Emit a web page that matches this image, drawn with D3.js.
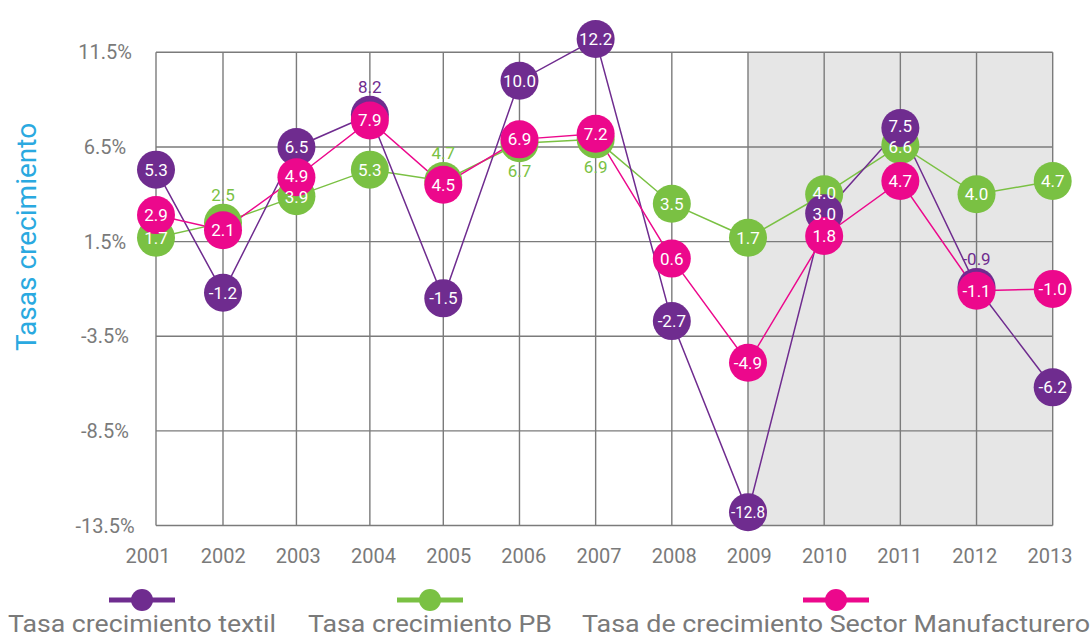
<!DOCTYPE html>
<html>
<head>
<meta charset="utf-8">
<script src="https://cdn.jsdelivr.net/npm/d3@7"></script>
<style>
  html, body { margin: 0; padding: 0; background: #ffffff; }
  svg { display: block; }
  text { font-family: Roboto, "Open Sans", sans-serif; }
</style>
</head>
<body>
<svg id="chart" width="1092" height="639"></svg>
<script>
// ---- Data ----
const years = [2001, 2002, 2003, 2004, 2005, 2006, 2007, 2008, 2009, 2010, 2011, 2012, 2013];
const textil = [5.3, -1.2, 6.5, 8.2, -1.5, 10.0, 12.2, -2.7, -12.8, 3.0, 7.5, -0.9, -6.2];
const pb = [1.7, 2.5, 3.9, 5.3, 4.7, 6.7, 6.9, 3.5, 1.7, 4.0, 6.6, 4.0, 4.7];
const manufacturero = [2.9, 2.1, 4.9, 7.9, 4.5, 6.9, 7.2, 0.6, -4.9, 1.8, 4.7, -1.1, -1.0];
const yTicks = [11.5, 6.5, 1.5, -3.5, -8.5, -13.5];
const seriesNames = ["Tasa crecimiento textil", "Tasa crecimiento PB", "Tasa de crecimiento Sector Manufacturero"];
const shadedFrom = 2009;
const yTitle = "Tasas crecimiento";

// ---- Styles ----
const colors = { textil: "#6f2c8f", pb: "#7ac143", manuf: "#ec088c" };
const gridColor = "#7b7b7b";
const labelColor = "#7a7a7a";
const R = 19;

// draw order: green, purple, magenta (later on top)
const series = [
  { key: "pb", name: seriesNames[1], values: pb, color: colors.pb },
  { key: "textil", name: seriesNames[0], values: textil, color: colors.textil },
  { key: "manuf", name: seriesNames[2], values: manufacturero, color: colors.manuf }
];

const svg = d3.select("#chart");

const x = d3.scaleLinear()
  .domain([2001, 2002, 2005, 2013])
  .range([156, 223, 443.3, 1052.7]);
const xLabel = d3.scalePoint().domain(years).range([148, 1050]);
const y = d3.scaleLinear().domain([-13.5, 11.5]).range([525.5, 52.3]);

// shaded region
svg.append("rect")
  .attr("x", x(shadedFrom))
  .attr("y", y(11.5))
  .attr("width", x(years[years.length - 1]) - x(shadedFrom))
  .attr("height", y(-13.5) - y(11.5))
  .attr("fill", "#e6e6e6");

// grid
const grid = svg.append("g").attr("stroke", gridColor).attr("stroke-width", 1.4);
grid.selectAll("line.h").data(yTicks).join("line")
  .attr("x1", x(2001)).attr("x2", x(2013))
  .attr("y1", d => y(d)).attr("y2", d => y(d));
grid.selectAll("line.v").data(years).join("line")
  .attr("x1", d => x(d)).attr("x2", d => x(d))
  .attr("y1", y(11.5)).attr("y2", y(-13.5));

// y tick labels
svg.append("g").selectAll("text").data(yTicks).join("text")
  .attr("x", 105)
  .attr("y", d => y(d) + 7)
  .attr("text-anchor", "middle")
  .attr("font-size", 20)
  .attr("fill", labelColor)
  .text(d => d + "%");

// x tick labels
svg.append("g").selectAll("text").data(years).join("text")
  .attr("x", d => xLabel(d))
  .attr("y", 563)
  .attr("text-anchor", "middle")
  .attr("font-size", 20)
  .attr("fill", labelColor)
  .text(d => d);

// y title
svg.append("text")
  .attr("transform", "translate(36,237) rotate(-90)")
  .attr("text-anchor", "middle")
  .attr("font-size", 28)
  .attr("fill", "#2aa9e0")
  .text(yTitle);

// lines
const line = d3.line().x((d, i) => x(years[i])).y(d => y(d));
svg.append("g").selectAll("path").data(series).join("path")
  .attr("d", s => line(s.values))
  .attr("fill", "none")
  .attr("stroke", s => s.color)
  .attr("stroke-width", 1.5);

// circles
series.forEach(s => {
  svg.append("g").selectAll("circle").data(s.values).join("circle")
    .attr("cx", (d, i) => x(years[i]))
    .attr("cy", d => y(d))
    .attr("r", R)
    .attr("fill", s.color);
});

// labels (top layer); a circle mostly hidden by a later one gets its label outside
const labels = [];
series.forEach((s, si) => {
  s.values.forEach((v, i) => {
    let pos = "in";
    for (let sj = si + 1; sj < series.length; sj++) {
      const w = series[sj].values[i];
      if (Math.abs(y(v) - y(w)) < 12) pos = (v >= w) ? "above" : "below";
    }
    labels.push({ s, v, i, pos, cx: x(years[i]), cy: y(v) });
  });
});
// nudge inside labels of the same year apart when too close
years.forEach((yr, i) => {
  const inside = labels.filter(l => l.i === i && l.pos === "in").sort((a, b) => a.cy - b.cy);
  for (let k = 1; k < inside.length; k++) {
    const gap = inside[k].cy - inside[k - 1].cy;
    if (gap < 21 && gap > 12) {
      const push = (21 - gap) / 2;
      inside[k - 1].cy -= push;
      inside[k].cy += push;
    }
  }
});
const labelLayer = svg.append("g");
labels.forEach(l => {
  const t = labelLayer.append("text")
    .attr("x", l.cx)
    .attr("text-anchor", "middle")
    .attr("font-size", 17)
    .text(l.v.toFixed(1));
  if (l.pos === "in") {
    t.attr("y", l.cy + 6).attr("fill", "#ffffff");
    const len = t.node().getComputedTextLength();
    if (len > 34) t.attr("textLength", 34).attr("lengthAdjust", "spacingAndGlyphs");
  } else if (l.pos === "above") {
    t.attr("y", l.cy - 22).attr("fill", l.s.color);
  } else {
    t.attr("y", l.cy + 34).attr("fill", l.s.color);
  }
});

// legend
const legendItems = [
  { s: series[1], cx: 142, w: 268 },
  { s: series[0], cx: 430, w: 244 },
  { s: series[2], cx: 836, w: 508 }
];
const lg = svg.append("g");
legendItems.forEach(it => {
  lg.append("line")
    .attr("x1", it.cx - 33).attr("x2", it.cx + 33)
    .attr("y1", 600).attr("y2", 600)
    .attr("stroke", it.s.color).attr("stroke-width", 5);
  lg.append("circle").attr("cx", it.cx).attr("cy", 600).attr("r", 11).attr("fill", it.s.color);
  lg.append("text")
    .attr("x", it.cx).attr("y", 632)
    .attr("text-anchor", "middle")
    .attr("font-size", 24)
    .attr("fill", labelColor)
    .attr("textLength", it.w)
    .attr("lengthAdjust", "spacingAndGlyphs")
    .text(it.s.name);
});
</script>
</body>
</html>
